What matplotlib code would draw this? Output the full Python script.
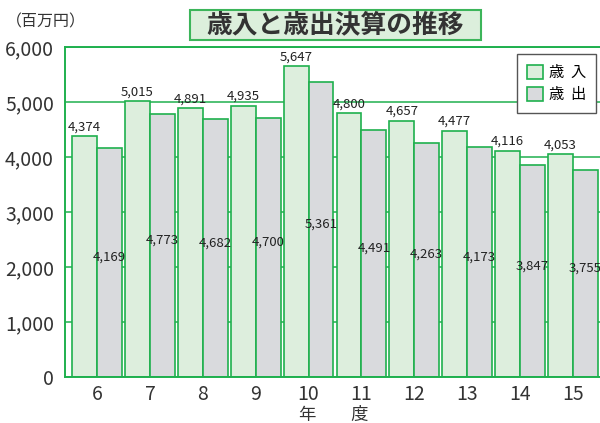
import numpy as np
import matplotlib
matplotlib.use('Agg')
import matplotlib.pyplot as plt
from matplotlib.patches import Rectangle

plt.rcParams['font.family'] = ['Noto Sans CJK JP', 'DejaVu Sans']

# Data (百万円)
years = [6, 7, 8, 9, 10, 11, 12, 13, 14, 15]
revenue = [4374, 5015, 4891, 4935, 5647, 4800, 4657, 4477, 4116, 4053]
expenditure = [4169, 4773, 4682, 4700, 5361, 4491, 4263, 4173, 3847, 3755]

green = '#1fb04e'
rev_fill = '#ddeedd'
exp_fill = '#d9dadd'
bar_w = 0.47

fig = plt.figure(figsize=(6, 4.23), dpi=100)
ax = fig.add_axes([65/600, 46/423, 535/600, 330/423])

x = np.array(years, dtype=float)

# Gridlines behind bars
ax.set_axisbelow(True)
ax.yaxis.grid(True, color=green, linewidth=1.1)

ax.bar(x - bar_w/2, revenue, width=bar_w, color=rev_fill,
       edgecolor=green, linewidth=1.2, label='歳  入', zorder=2)
ax.bar(x + bar_w/2, expenditure, width=bar_w, color=exp_fill,
       edgecolor=green, linewidth=1.2, label='歳  出', zorder=2)

# Value labels
for xi, v in zip(x, revenue):
    ax.annotate(f'{v:,}', (xi - bar_w/2, v), xytext=(0, 2),
                textcoords='offset points', ha='center', va='bottom',
                fontsize=9.5, color='#222222', zorder=3)
for xi, v in zip(x, expenditure):
    ax.text(xi + bar_w/2, v/2 + 100, f'{v:,}', ha='center', va='center',
            fontsize=9.5, color='#222222', zorder=3)

ax.set_xlim(5.395, 15.51)
ax.set_ylim(0, 6000)
ax.set_yticks(range(0, 6001, 1000))
ax.set_yticklabels([f'{t:,}' for t in range(0, 6001, 1000)])
ax.set_xticks(x)
ax.set_xticklabels([str(y) for y in years])
ax.tick_params(axis='both', length=0, labelsize=14, colors='#333333')
ax.tick_params(axis='y', pad=8)
ax.tick_params(axis='x', pad=5)

for side in ['top', 'left', 'bottom']:
    ax.spines[side].set_color(green)
    ax.spines[side].set_linewidth(1.4)
ax.spines['right'].set_visible(False)

leg = ax.legend(loc='upper right', bbox_to_anchor=(0.9925, 0.979),
                borderaxespad=0, fancybox=False, edgecolor='#555555',
                fontsize=11, handlelength=1.05, handleheight=1.05,
                handletextpad=0.35, borderpad=0.65, labelspacing=0.35,
                framealpha=1)
leg.get_frame().set_linewidth(1.0)

# Title box
fig.patches.append(Rectangle((190/600, 1 - 40/423), 291/600, 30/423,
                             transform=fig.transFigure, facecolor='#dcefdc',
                             edgecolor='#3cb55a', linewidth=1.5))
fig.text(335.5/600, 1 - 25/423, '歳入と歳出決算の推移', ha='center', va='center',
         fontsize=18.5, fontweight='bold', color='#333333')

fig.text(6/600, 1 - 22/423, '（百万円）', ha='left', va='center',
         fontsize=11.5, color='#333333')
fig.text(334/600, 1 - 406/423, '年　　度', ha='center', va='top',
         fontsize=12.5, color='#333333')

fig.savefig('out.png', dpi=100)
